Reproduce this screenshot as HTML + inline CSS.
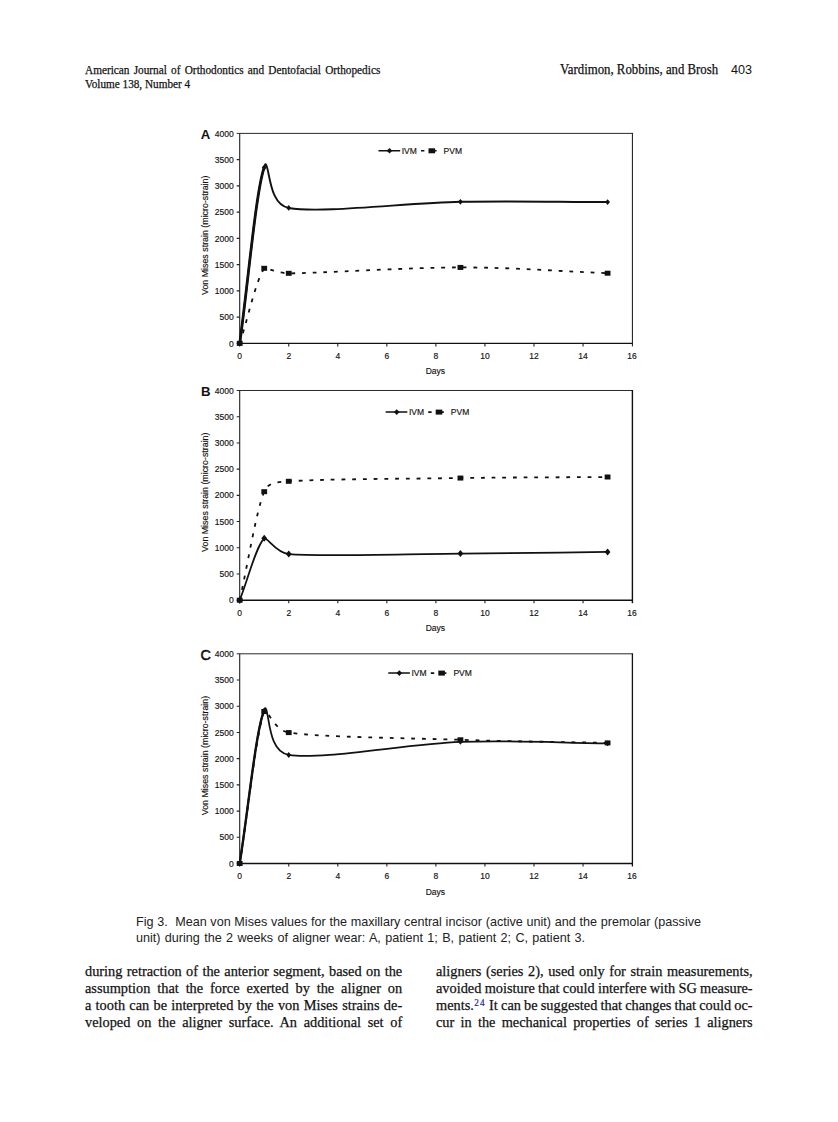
<!DOCTYPE html>
<html><head><meta charset="utf-8"><title>Fig 3</title>
<style>
html,body{margin:0;padding:0;background:#fff}
body{width:838px;height:1122px;position:relative;overflow:hidden;font-family:"Liberation Serif",serif;color:#111}
.ln{position:absolute;white-space:nowrap;line-height:1;height:1em;transform-origin:0 0}
.ln.j{white-space:normal;text-align:justify;text-align-last:justify}
.hd,.hd2,.hr,.bd{-webkit-text-stroke:0.25px #111}
.hd{font-size:12.4px;transform:scaleX(0.91)}
.hr{font-size:13.9px;transform:scaleX(0.921)}
.pg{font-family:"Liberation Sans",sans-serif;font-size:12.6px}
.cp{font-family:"Liberation Sans",sans-serif;font-size:12.6px;color:#222}
.bd{font-size:15.6px;transform:scaleX(0.92);word-spacing:-1.6px}
.hd2{font-size:12.4px;transform:scaleX(0.906)}
sup{font-size:10px;line-height:0;vertical-align:4.6px;letter-spacing:1.3px;color:#22228a;-webkit-text-stroke:0.2px #22228a;margin-left:0.5px}
svg{position:absolute;left:0;top:0}
.fr{fill:none;stroke:#2a2a2a;stroke-width:1}
.ax{fill:none;stroke:#222;stroke-width:1.1}
.tk{font-family:"Liberation Sans",sans-serif;font-size:8.5px;fill:#111;stroke:#111;stroke-width:0.15px}
.tt{font-family:"Liberation Sans",sans-serif;font-size:8.85px;fill:#111;stroke:#111;stroke-width:0.15px}
.pl{font-family:"Liberation Sans",sans-serif;font-size:13.2px;font-weight:bold;fill:#111}
.plc{font-family:"Liberation Sans",sans-serif;font-size:14.4px;fill:#111;stroke:#111;stroke-width:0.55px}
.iv{fill:none;stroke:#111;stroke-width:2;stroke-linejoin:round;stroke-linecap:round}
.pv{fill:none;stroke:#111;stroke-width:1.8;stroke-dasharray:3.8 6.9}
.mk{fill:#111;stroke:none}
</style></head><body>
<div class="ln hd j" style="left:84.5px;top:64.4px;width:324.51px;">American Journal of Orthodontics and Dentofacial Orthopedics</div>
<div class="ln hd2 " style="left:85px;top:78.2px;width:114.79px;">Volume 138, Number 4</div>
<div class="ln hr " style="left:560.3px;top:63px;width:185.79px;">Vardimon, Robbins, and Brosh</div>
<div class="ln pg " style="left:731px;top:63.6px;width:30.00px;">403</div>
<div class="ln cp j" style="left:136px;top:915.8px;width:565.00px;">Fig 3.&nbsp; Mean von Mises values for the maxillary central incisor (active unit) and the premolar (passive</div>
<div class="ln cp j" style="left:136px;top:931.8px;width:449.00px;">unit) during the 2 weeks of aligner wear: A, patient 1; B, patient 2; C, patient 3.</div>
<div class="ln bd j" style="left:85.3px;top:963.4px;width:344.78px;">during retraction of the anterior segment, based on the</div>
<div class="ln bd j" style="left:85.3px;top:980.35px;width:344.78px;">assumption that the force exerted by the aligner on</div>
<div class="ln bd j" style="left:85.3px;top:997.3px;width:344.78px;">a tooth can be interpreted by the von Mises strains de-</div>
<div class="ln bd j" style="left:85.3px;top:1014.25px;width:344.78px;">veloped on the aligner surface. An additional set of</div>
<div class="ln bd j" style="left:436px;top:963.4px;width:344.13px;">aligners (series 2), used only for strain measurements,</div>
<div class="ln bd j" style="left:436px;top:980.4px;width:344.13px;">avoided moisture that could interfere with SG measure-</div>
<div class="ln bd j" style="left:436px;top:997.4px;width:344.13px;">ments.<sup>24</sup> It can be suggested that changes that could oc-</div>
<div class="ln bd j" style="left:436px;top:1014.4px;width:344.13px;">cur in the mechanical properties of series 1 aligners</div>
<svg width="838" height="1122" viewBox="0 0 838 1122">
<g id="chartA">
<path d="M236.7 133.4H632.3999999999999" class="fr"/>
<path d="M632.3999999999999 132.9V346.4" class="fr" style="stroke-width:1.0;stroke:#111"/>
<path d="M239.7 133.4V346.4" class="ax"/>
<path d="M236.7 343.4H632.5999999999999" class="ax" style="stroke-width:1.4;stroke:#111"/>
<path d="M236.7 159.65H239.7M236.7 185.90H239.7M236.7 212.15H239.7M236.7 238.40H239.7M236.7 264.65H239.7M236.7 290.90H239.7M236.7 317.15H239.7M288.75 343.4V346.4M337.80 343.4V346.4M386.85 343.4V346.4M435.90 343.4V346.4M484.95 343.4V346.4M534.00 343.4V346.4M583.05 343.4V346.4" class="ax"/>
<text x="233.7" y="136.50" text-anchor="end" class="tk">4000</text>
<text x="233.7" y="162.75" text-anchor="end" class="tk">3500</text>
<text x="233.7" y="189.00" text-anchor="end" class="tk">3000</text>
<text x="233.7" y="215.25" text-anchor="end" class="tk">2500</text>
<text x="233.7" y="241.50" text-anchor="end" class="tk">2000</text>
<text x="233.7" y="267.75" text-anchor="end" class="tk">1500</text>
<text x="233.7" y="294.00" text-anchor="end" class="tk">1000</text>
<text x="233.7" y="320.25" text-anchor="end" class="tk">500</text>
<text x="233.7" y="346.50" text-anchor="end" class="tk">0</text>
<text x="239.70" y="359.00" text-anchor="middle" class="tk">0</text>
<text x="288.75" y="359.00" text-anchor="middle" class="tk">2</text>
<text x="337.80" y="359.00" text-anchor="middle" class="tk">4</text>
<text x="386.85" y="359.00" text-anchor="middle" class="tk">6</text>
<text x="435.90" y="359.00" text-anchor="middle" class="tk">8</text>
<text x="484.95" y="359.00" text-anchor="middle" class="tk">10</text>
<text x="534.00" y="359.00" text-anchor="middle" class="tk">12</text>
<text x="583.05" y="359.00" text-anchor="middle" class="tk">14</text>
<text x="632.10" y="359.00" text-anchor="middle" class="tk">16</text>
<text x="435.40" y="374.40" text-anchor="middle" class="tk">Days</text>
<text transform="translate(208.3 235.30) rotate(-90)" text-anchor="middle" class="tt">Von Mises strain (micro-strain)</text>
<text x="200.8" y="139.40" class="pl">A</text>
<path d="M239.70 343.40 C247.87 318.38 256.05 280.01 264.22 268.32 C264.79 267.52 265.71 268.39 266.68 268.59 C270.76 269.42 279.72 273.35 288.75 273.31 C321.45 273.16 407.29 267.45 460.42 267.43 C513.56 267.42 558.52 271.28 607.58 273.21" class="pv"/>
<path d="M239.70 343.40 C247.87 284.77 256.05 190.10 264.22 167.53 C264.71 166.18 265.20 163.15 265.94 164.38 C270.03 171.11 269.37 204.56 288.75 207.95 C321.45 213.66 407.29 202.79 460.42 201.81 C513.56 200.83 558.52 201.98 607.58 202.07" class="iv" style="stroke-width:1.9"/>
<path d="M239.70 343.40 C247.87 284.77 256.05 190.10 264.22 167.53 " class="iv" style="stroke-width:2.8"/>
<rect x="236.80" y="340.90" width="5.8" height="5" class="mk"/>
<rect x="261.32" y="265.82" width="5.8" height="5" class="mk"/>
<rect x="285.85" y="270.81" width="5.8" height="5" class="mk"/>
<rect x="457.52" y="264.93" width="5.8" height="5" class="mk"/>
<rect x="604.68" y="270.71" width="5.8" height="5" class="mk"/>
<path d="M237.30 343.40L239.70 340.50L242.10 343.40L239.70 346.30Z" class="mk"/>
<path d="M261.82 167.53L264.22 164.62L266.62 167.53L264.22 170.43Z" class="mk"/>
<path d="M286.35 207.95L288.75 205.05L291.15 207.95L288.75 210.85Z" class="mk"/>
<path d="M458.02 201.81L460.42 198.91L462.82 201.81L460.42 204.71Z" class="mk"/>
<path d="M605.18 202.07L607.58 199.17L609.98 202.07L607.58 204.97Z" class="mk"/>
<path d="M379 150.8H399.6" class="iv" style="stroke-width:1.5"/>
<path d="M387 150.8m-0.3 0l2.8 -2.8l2.8 2.8l-2.8 2.8Z" class="mk"/>
<text x="401.70" y="153.9" class="tk">IVM</text>
<path d="M421.00 150.8h3.4M434.60 150.8h2" class="iv" style="stroke-width:1.6;stroke-linecap:butt"/>
<rect x="428.50" y="148.3" width="6.6" height="5" class="mk"/>
<text x="443.60" y="153.9" class="tk">PVM</text>
</g>
<g id="chartB">
<path d="M236.7 390.5H632.3999999999999" class="fr"/>
<path d="M632.3999999999999 390.0V603.2" class="fr" style="stroke-width:1.4;stroke:#111"/>
<path d="M239.7 390.5V603.2" class="ax"/>
<path d="M236.7 600.2H632.5999999999999" class="ax" style="stroke-width:1.4;stroke:#111"/>
<path d="M236.7 416.71H239.7M236.7 442.93H239.7M236.7 469.14H239.7M236.7 495.35H239.7M236.7 521.56H239.7M236.7 547.78H239.7M236.7 573.99H239.7M288.75 600.2V603.2M337.80 600.2V603.2M386.85 600.2V603.2M435.90 600.2V603.2M484.95 600.2V603.2M534.00 600.2V603.2M583.05 600.2V603.2" class="ax"/>
<text x="233.7" y="393.60" text-anchor="end" class="tk">4000</text>
<text x="233.7" y="419.81" text-anchor="end" class="tk">3500</text>
<text x="233.7" y="446.03" text-anchor="end" class="tk">3000</text>
<text x="233.7" y="472.24" text-anchor="end" class="tk">2500</text>
<text x="233.7" y="498.45" text-anchor="end" class="tk">2000</text>
<text x="233.7" y="524.66" text-anchor="end" class="tk">1500</text>
<text x="233.7" y="550.88" text-anchor="end" class="tk">1000</text>
<text x="233.7" y="577.09" text-anchor="end" class="tk">500</text>
<text x="233.7" y="603.30" text-anchor="end" class="tk">0</text>
<text x="239.70" y="615.80" text-anchor="middle" class="tk">0</text>
<text x="288.75" y="615.80" text-anchor="middle" class="tk">2</text>
<text x="337.80" y="615.80" text-anchor="middle" class="tk">4</text>
<text x="386.85" y="615.80" text-anchor="middle" class="tk">6</text>
<text x="435.90" y="615.80" text-anchor="middle" class="tk">8</text>
<text x="484.95" y="615.80" text-anchor="middle" class="tk">10</text>
<text x="534.00" y="615.80" text-anchor="middle" class="tk">12</text>
<text x="583.05" y="615.80" text-anchor="middle" class="tk">14</text>
<text x="632.10" y="615.80" text-anchor="middle" class="tk">16</text>
<text x="435.40" y="631.20" text-anchor="middle" class="tk">Days</text>
<text transform="translate(208.3 492.25) rotate(-90)" text-anchor="middle" class="tt">Von Mises strain (micro-strain)</text>
<text x="201.0" y="395.70" class="pl">B</text>
<path d="M239.70 600.20 C247.87 564.03 256.05 511.50 264.22 491.68 C268.29 481.83 278.12 482.04 288.75 481.30 C321.45 479.03 407.29 478.77 460.42 478.05 C513.56 477.33 558.52 477.35 607.58 477.00" class="pv"/>
<path d="M239.70 600.20 C247.87 579.58 256.05 546.03 264.22 538.34 C264.84 537.76 265.48 538.67 266.19 539.12 C270.27 541.75 277.96 553.23 288.75 554.07 C321.45 556.60 407.29 553.89 460.42 553.54 C513.56 553.19 558.52 552.49 607.58 551.97" class="iv" style="stroke-width:1.75"/>
<rect x="236.80" y="597.70" width="5.8" height="5" class="mk"/>
<rect x="261.32" y="489.18" width="5.8" height="5" class="mk"/>
<rect x="285.85" y="478.80" width="5.8" height="5" class="mk"/>
<rect x="457.52" y="475.55" width="5.8" height="5" class="mk"/>
<rect x="604.68" y="474.50" width="5.8" height="5" class="mk"/>
<path d="M236.80 600.20L239.70 596.70L242.60 600.20L239.70 603.70Z" class="mk"/>
<path d="M261.32 538.34L264.22 534.84L267.12 538.34L264.22 541.84Z" class="mk"/>
<path d="M285.85 554.07L288.75 550.57L291.65 554.07L288.75 557.57Z" class="mk"/>
<path d="M457.52 553.54L460.42 550.04L463.32 553.54L460.42 557.04Z" class="mk"/>
<path d="M604.68 551.97L607.58 548.47L610.48 551.97L607.58 555.47Z" class="mk"/>
<path d="M386.2 412.1H406.8" class="iv" style="stroke-width:1.5"/>
<path d="M394.2 412.1m-0.3 0l2.8 -2.8l2.8 2.8l-2.8 2.8Z" class="mk"/>
<text x="408.90" y="415.20000000000005" class="tk">IVM</text>
<path d="M428.20 412.1h3.4M441.80 412.1h2" class="iv" style="stroke-width:1.6;stroke-linecap:butt"/>
<rect x="435.70" y="409.6" width="6.6" height="5" class="mk"/>
<text x="450.80" y="415.20000000000005" class="tk">PVM</text>
</g>
<g id="chartC">
<path d="M236.7 653.8H632.3999999999999" class="fr"/>
<path d="M632.3999999999999 653.3V866.5" class="fr" style="stroke-width:1.3;stroke:#111"/>
<path d="M239.7 653.8V866.5" class="ax"/>
<path d="M236.7 863.5H632.5999999999999" class="ax" style="stroke-width:1.4;stroke:#111"/>
<path d="M236.7 680.01H239.7M236.7 706.22H239.7M236.7 732.44H239.7M236.7 758.65H239.7M236.7 784.86H239.7M236.7 811.08H239.7M236.7 837.29H239.7M288.75 863.5V866.5M337.80 863.5V866.5M386.85 863.5V866.5M435.90 863.5V866.5M484.95 863.5V866.5M534.00 863.5V866.5M583.05 863.5V866.5" class="ax"/>
<text x="233.7" y="656.90" text-anchor="end" class="tk">4000</text>
<text x="233.7" y="683.11" text-anchor="end" class="tk">3500</text>
<text x="233.7" y="709.32" text-anchor="end" class="tk">3000</text>
<text x="233.7" y="735.54" text-anchor="end" class="tk">2500</text>
<text x="233.7" y="761.75" text-anchor="end" class="tk">2000</text>
<text x="233.7" y="787.96" text-anchor="end" class="tk">1500</text>
<text x="233.7" y="814.18" text-anchor="end" class="tk">1000</text>
<text x="233.7" y="840.39" text-anchor="end" class="tk">500</text>
<text x="233.7" y="866.60" text-anchor="end" class="tk">0</text>
<text x="239.70" y="879.10" text-anchor="middle" class="tk">0</text>
<text x="288.75" y="879.10" text-anchor="middle" class="tk">2</text>
<text x="337.80" y="879.10" text-anchor="middle" class="tk">4</text>
<text x="386.85" y="879.10" text-anchor="middle" class="tk">6</text>
<text x="435.90" y="879.10" text-anchor="middle" class="tk">8</text>
<text x="484.95" y="879.10" text-anchor="middle" class="tk">10</text>
<text x="534.00" y="879.10" text-anchor="middle" class="tk">12</text>
<text x="583.05" y="879.10" text-anchor="middle" class="tk">14</text>
<text x="632.10" y="879.10" text-anchor="middle" class="tk">16</text>
<text x="435.40" y="894.50" text-anchor="middle" class="tk">Days</text>
<text transform="translate(208.3 755.55) rotate(-90)" text-anchor="middle" class="tt">Von Mises strain (micro-strain)</text>
<text x="200.6" y="659.50" class="plc">C</text>
<path d="M239.70 863.50 C247.87 812.82 256.05 733.29 264.22 711.47 C264.51 710.71 265.57 711.46 266.19 711.99 C270.27 715.51 276.65 730.85 288.75 732.59 C321.45 737.31 407.29 738.06 460.42 739.78 C513.56 741.50 558.52 741.87 607.58 742.92" class="pv"/>
<path d="M239.70 863.50 C247.87 812.47 256.05 728.51 264.22 710.42 C264.63 709.52 265.22 707.56 265.70 708.43 C269.78 715.85 268.23 751.69 288.75 754.98 C321.45 760.22 407.29 743.80 460.42 741.87 C513.56 739.95 558.52 742.92 607.58 743.45" class="iv" style="stroke-width:1.75"/>
<path d="M239.70 863.50 C247.87 812.47 256.05 728.51 264.22 710.42 " class="iv" style="stroke-width:2.4"/>
<rect x="236.80" y="861.00" width="5.8" height="5" class="mk"/>
<rect x="261.32" y="708.97" width="5.8" height="5" class="mk"/>
<rect x="285.85" y="730.09" width="5.8" height="5" class="mk"/>
<rect x="457.52" y="737.28" width="5.8" height="5" class="mk"/>
<rect x="604.68" y="740.42" width="5.8" height="5" class="mk"/>
<path d="M237.30 863.50L239.70 860.60L242.10 863.50L239.70 866.40Z" class="mk"/>
<path d="M261.82 710.42L264.22 707.52L266.62 710.42L264.22 713.32Z" class="mk"/>
<path d="M286.35 754.98L288.75 752.08L291.15 754.98L288.75 757.88Z" class="mk"/>
<path d="M458.02 741.87L460.42 738.97L462.82 741.87L460.42 744.77Z" class="mk"/>
<path d="M605.18 743.45L607.58 740.55L609.98 743.45L607.58 746.35Z" class="mk"/>
<path d="M388.8 673.1H409.40000000000003" class="iv" style="stroke-width:1.5"/>
<path d="M396.8 673.1m-0.3 0l2.8 -2.8l2.8 2.8l-2.8 2.8Z" class="mk"/>
<text x="411.50" y="676.2" class="tk">IVM</text>
<path d="M430.80 673.1h3.4M444.40 673.1h2" class="iv" style="stroke-width:1.6;stroke-linecap:butt"/>
<rect x="438.30" y="670.6" width="6.6" height="5" class="mk"/>
<text x="453.40" y="676.2" class="tk">PVM</text>
</g>
</svg>
</body></html>
